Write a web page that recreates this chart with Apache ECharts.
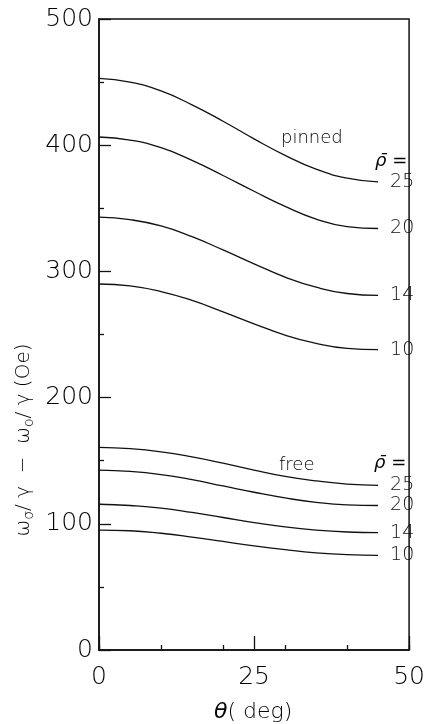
<!DOCTYPE html>
<html>
<head>
<meta charset="utf-8">
<script src="https://cdn.jsdelivr.net/npm/echarts@6/dist/echarts.min.js"></script>
<style>html,body{margin:0;padding:0;background:#fff;}#c{width:428px;height:724px;}</style>
</head>
<body>
<div id="c"></div>
<script>
const theta = [0, 5, 10, 15, 20, 25, 30, 35, 40, 45];
const rhoLabels = ['25', '20', '14', '10'];
const pinned25 = [453, 450, 443, 432, 419, 405, 392, 381, 374, 371];
const pinned20 = [406.5, 404, 398, 388, 376, 363.5, 351.5, 341.5, 335.5, 334];
const pinned14 = [343, 341, 336, 327.5, 317, 306, 295.5, 287.5, 282.5, 281];
const pinned10 = [290, 288.5, 284, 277, 268, 258.5, 249.5, 243, 239, 238];
const free25 = [160.5, 159.5, 157, 153, 148, 142.5, 137.5, 134, 131.5, 130.5];
const free20 = [142.5, 141.5, 139, 135, 130, 125, 120.5, 117, 115, 114.5];
const free14 = [115.5, 114.5, 112.5, 109, 105, 101, 97.5, 95, 93.5, 93];
const free10 = [95, 94.5, 92.5, 89.5, 86, 82.5, 79.5, 77, 75.5, 75];
const yTicks = [0, 100, 200, 300, 400, 500];
const xTicks = [0, 25, 50];

const ink = '#111';
const FONT = 'DejaVu Sans';

function mk(vals, label) {
  return {
    type: 'line', xAxisIndex: 0, yAxisIndex: 0,
    data: theta.map((t, i) => [t, vals[i]]),
    smooth: 0.5, showSymbol: false, symbol: 'none',
    lineStyle: { color: ink, width: 1.3 },
    endLabel: { show: true, formatter: label, color: ink, fontFamily: FONT, fontWeight: 200, fontSize: 19, distance: 12 },
    silent: true, animation: false
  };
}

const series = [
  mk(pinned25, rhoLabels[0]), mk(pinned20, rhoLabels[1]), mk(pinned14, rhoLabels[2]), mk(pinned10, rhoLabels[3]),
  mk(free25, rhoLabels[0]), mk(free20, rhoLabels[1]), mk(free14, rhoLabels[2]), mk(free10, rhoLabels[3])
];

const chart = echarts.init(document.getElementById('c'), null, { renderer: 'canvas' });
chart.setOption({
  backgroundColor: '#fff',
  animation: false,
  grid: { left: 99, right: 9, top: 19, bottom: 74, show: true, borderColor: ink, borderWidth: 1.5, backgroundColor: 'transparent' },
  xAxis: [
    {
      type: 'value', min: xTicks[0], max: xTicks[xTicks.length - 1], interval: 25,
      axisLine: { show: true, lineStyle: { color: ink, width: 1.5 } },
      axisTick: { show: true, inside: true, length: 14, lineStyle: { color: ink, width: 1.3 } },
      axisLabel: { color: '#000', fontFamily: FONT, fontWeight: 200, fontSize: 25, margin: 15 },
      splitLine: { show: false }
    },
    {
      type: 'value', min: 0, max: 50, interval: 10, position: 'bottom',
      axisLine: { show: false },
      axisTick: { show: true, inside: true, length: 5, lineStyle: { color: ink, width: 1.3 } },
      axisLabel: { show: false },
      splitLine: { show: false }
    }
  ],
  yAxis: [
    {
      type: 'value', min: yTicks[0], max: yTicks[yTicks.length - 1], interval: 100,
      axisLine: { show: true, lineStyle: { color: ink, width: 1.5 } },
      axisTick: { show: true, inside: true, length: 12, lineStyle: { color: ink, width: 1.3 } },
      minorTick: { show: true, splitNumber: 2, length: 5, lineStyle: { color: ink, width: 1.3 } },
      axisLabel: { color: '#000', fontFamily: FONT, fontWeight: 200, fontSize: 25, margin: 6 },
      splitLine: { show: false }
    }
  ],
  series: series,
  graphic: [
    { type: 'text', left: 281, top: 129, style: { text: 'pinned', fill: '#000', font: '200 18px "DejaVu Sans"' } },
    { type: 'text', left: 375, top: 152, style: { text: 'ρ\u0304 =', fill: '#000', font: 'italic 200 18px "DejaVu Sans"' } },
    { type: 'text', left: 279, top: 456, style: { text: 'free', fill: '#000', font: '200 18px "DejaVu Sans"' } },
    { type: 'text', left: 374, top: 454, style: { text: 'ρ\u0304 =', fill: '#000', font: 'italic 200 18px "DejaVu Sans"' } },
    { type: 'text', left: 214, top: 701, style: { text: '{i|θ}{n|( deg)}', fill: '#000',
        rich: { i: { fontFamily: FONT, fontStyle: 'italic', fontWeight: 200, fontSize: 22, fill: '#000' },
                n: { fontFamily: FONT, fontWeight: 200, fontSize: 22, fill: '#000' } } } },
    { type: 'text', x: 24, y: 440, rotation: Math.PI / 2,
      style: { text: '{a|ω}{s|σ}{a|/ γ  −  ω}{s|o}{a|/ γ (Oe)}', fill: '#000', align: 'center', verticalAlign: 'middle',
        rich: { a: { fontFamily: FONT, fontWeight: 200, fontSize: 20, fill: '#000', verticalAlign: 'middle' },
                s: { fontFamily: FONT, fontWeight: 200, fontSize: 14, fill: '#000', padding: [10, 0, 0, 0] } } } }
  ]
});
</script>
</body>
</html>
